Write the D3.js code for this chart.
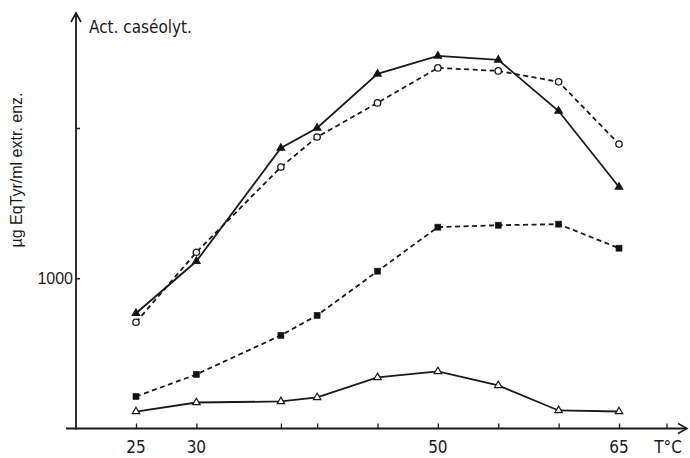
<!DOCTYPE html>
<html><head><meta charset="utf-8">
<script src="https://cdn.jsdelivr.net/npm/d3@7"></script>
<style>body{margin:0;background:#fff}svg{display:block}text{font-stretch:condensed}</style>
</head><body>
<svg id="c" width="690" height="458"></svg>
<script>
const temps = [25, 30, 37, 40, 45, 50, 55, 60, 65];
const xTickValues = [25, 30, 37, 40, 45, 50, 55, 60, 65];
const xTickLabels = {25: "25", 30: "30", 50: "50", 65: "65"};
const yTickValues = [1000, 2000];
const yTickLabels = {1000: "1000"};
const seriesFilledTri = [767, 1113, 1867, 2000, 2360, 2480, 2453, 2113, 1607];
const seriesOpenCircle = [707, 1173, 1740, 1940, 2167, 2400, 2380, 2307, 1893];
const seriesFilledSquare = [213, 360, 620, 753, 1047, 1340, 1353, 1360, 1200];
const seriesOpenTri = [113, 173, 180, 207, 340, 380, 287, 120, 113];

const series = [
  {values: seriesFilledSquare, dash: "5,3.5", marker: "square", fill: "#111"},
  {values: seriesOpenTri, dash: null, marker: "triangle", fill: "#fff"},
  {values: seriesOpenCircle, dash: "5,3.5", marker: "circle", fill: "#fff"},
  {values: seriesFilledTri, dash: null, marker: "triangle", fill: "#111"}
];

const svg = d3.select("#c");
const ink = "#1a1a1a";
const font = "'DejaVu Sans Condensed','DejaVu Sans','Liberation Sans Narrow',sans-serif";

const x = d3.scaleLinear().domain([25, 65]).range([136, 619]);
const y = d3.scaleLinear().domain([0, 2000]).range([428.5, 128]);

const axX0 = 66, axY = y(0);
svg.append("line").attr("x1", axX0).attr("x2", 686).attr("y1", axY).attr("y2", axY)
  .attr("stroke", ink).attr("stroke-width", 1.8);
svg.append("path").attr("d", `M678,${axY-5} L687,${axY} L678,${axY+5}`)
  .attr("fill", "none").attr("stroke", ink).attr("stroke-width", 1.6);
const axXpos = 76;
svg.append("line").attr("x1", axXpos).attr("x2", axXpos).attr("y1", axY + 1).attr("y2", 14)
  .attr("stroke", ink).attr("stroke-width", 1.8);
svg.append("path").attr("d", `M${axXpos-5},22 L${axXpos},13 L${axXpos+5},22`)
  .attr("fill", "none").attr("stroke", ink).attr("stroke-width", 1.6);

const xAxis = d3.axisTop(x).tickValues(xTickValues).tickSize(5).tickFormat("");
const gx = svg.append("g").attr("transform", `translate(0,${axY})`).call(xAxis);
gx.select(".domain").remove();
gx.selectAll(".tick line").attr("stroke", ink).attr("stroke-width", 1.3);
svg.append("line").attr("x1", 667).attr("x2", 667).attr("y1", axY).attr("y2", axY - 5)
  .attr("stroke", ink).attr("stroke-width", 1.3);

svg.selectAll("text.xl").data(xTickValues.filter(d => xTickLabels[d])).join("text")
  .attr("class", "xl").attr("x", d => x(d)).attr("y", axY + 24)
  .attr("text-anchor", "middle").attr("font-family", font).attr("font-size", 17)
  .attr("fill", ink).text(d => xTickLabels[d]);
svg.append("text").attr("x", 668).attr("y", axY + 24).attr("text-anchor", "middle")
  .attr("font-family", font).attr("font-size", 17).attr("fill", ink).text("T°C");

const yAxis = d3.axisRight(y).tickValues(yTickValues).tickSize(4).tickFormat("");
const gy = svg.append("g").attr("transform", `translate(${axXpos},0)`).call(yAxis);
gy.select(".domain").remove();
gy.selectAll(".tick line").attr("stroke", ink).attr("stroke-width", 1.5);
svg.selectAll("text.yl").data(yTickValues.filter(d => yTickLabels[d])).join("text")
  .attr("class", "yl").attr("x", axXpos - 3).attr("y", d => y(d) + 6)
  .attr("text-anchor", "end").attr("font-family", "'Liberation Sans','DejaVu Sans',sans-serif")
  .style("font-stretch", "normal")
  .attr("font-size", 16).attr("fill", ink).text(d => yTickLabels[d]);

svg.append("text").attr("x", 89).attr("y", 33).attr("font-family", font)
  .attr("font-size", 17).attr("fill", ink).text("Act. caséolyt.");
svg.append("text").attr("transform", "translate(22,170) rotate(-90)")
  .attr("text-anchor", "middle").attr("font-family", "'Liberation Sans','DejaVu Sans',sans-serif")
  .style("font-stretch", "normal").attr("font-size", 16)
  .attr("fill", ink).text("µg EqTyr/ml extr. enz.");

const line = d3.line().x((d, i) => x(temps[i])).y(d => y(d));
series.forEach(s => {
  svg.append("path").attr("d", line(s.values)).attr("fill", "none")
    .attr("stroke", ink).attr("stroke-width", 1.8)
    .attr("stroke-dasharray", s.dash);
});

const triSym = d3.symbol().type(d3.symbolTriangle).size(24);
series.forEach(s => {
  const g = svg.append("g");
  s.values.forEach((v, i) => {
    const cx = x(temps[i]), cy = y(v);
    if (s.marker === "circle") {
      g.append("circle").attr("cx", cx).attr("cy", cy).attr("r", 3.2)
        .attr("fill", s.fill).attr("stroke", ink).attr("stroke-width", 1.3);
    } else if (s.marker === "square") {
      g.append("rect").attr("x", cx - 3).attr("y", cy - 3).attr("width", 6).attr("height", 6)
        .attr("fill", s.fill).attr("stroke", ink).attr("stroke-width", 0.6);
    } else {
      g.append("path").attr("d", triSym()).attr("transform", `translate(${cx},${cy})`)
        .attr("fill", s.fill).attr("stroke", ink).attr("stroke-width", 1.2);
    }
  });
});
</script>
</body></html>
